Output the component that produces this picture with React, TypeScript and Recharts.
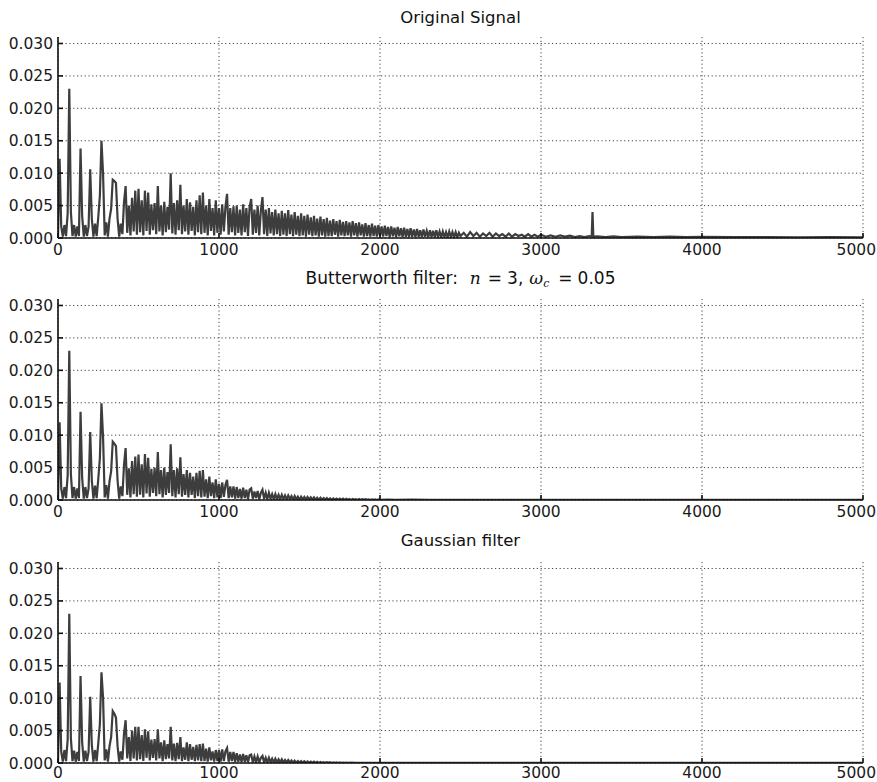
import React from 'react';
import { LineChart, Line, XAxis, YAxis, CartesianGrid } from 'recharts';

// Spectrum magnitudes in units of 1e-3, one value per 10 Hz bin starting at 0.
const originalDense = [
  0, 12.2, 1.8, 0.2, 2.0, 0.3, 3.8, 23.0, 4.0, 0.3,
  2.0, 0.2, 1.8, 0.3, 13.8, 3.4, 0.2, 2.0, 0.3, 1.8,
  10.6, 3.0, 0.2, 2.2, 0.3, 3.2, 6.5, 15.0, 9.8, 0.4,
  2.4, 0.2, 3.0, 4.5, 9.0, 8.8, 8.5, 3.0, 0.2, 2.2,
  0.6, 5.5, 8.0, 0.8, 5.0, 0.4, 6.2, 1.0, 7.3, 0.5,
  7.6, 0.9, 5.8, 0.4, 7.3, 1.1, 7.0, 0.5, 5.2, 1.2,
  5.4, 0.6, 8.0, 1.0, 5.0, 0.4, 5.6, 0.9, 4.8, 1.3,
  10.0, 0.7, 5.4, 0.5, 5.8, 1.2, 8.2, 0.6, 5.0, 1.0,
  6.0, 0.5, 5.5, 1.1, 4.8, 0.4, 5.8, 0.9, 6.6, 0.6,
  7.0, 0.8, 5.0, 0.4, 6.0, 1.1, 4.6, 0.4, 5.8, 0.8,
  4.6, 0.5, 5.2, 1.0, 4.8, 6.8, 0.5, 4.6, 0.9, 4.9,
  0.4, 5.0, 0.8, 4.4, 0.4, 5.2, 0.9, 4.6, 0.3, 4.8,
  6.0, 0.5, 4.4, 0.8, 5.0, 0.4, 4.2, 6.3, 0.6, 4.4,
  0.3, 4.6, 0.7, 4.0, 0.4, 4.4, 0.6, 3.8, 0.3, 4.2,
  0.5, 3.8, 0.3, 4.3, 0.6, 3.6, 0.3, 4.0, 0.5, 3.4,
  0.3, 3.8, 0.4, 3.4, 0.2, 3.6, 0.5, 3.2, 0.3, 3.4,
  0.4, 3.0, 0.2, 3.3, 0.4, 2.9, 0.2, 3.1, 0.3, 2.7,
  0.3, 2.9, 0.5, 2.6, 0.2, 2.8, 0.4, 2.5, 0.3, 2.6,
  0.4, 2.4, 0.2, 2.6, 0.4, 2.3, 0.2, 2.4, 0.4, 2.1,
  0.2, 2.3, 0.3, 2.0, 0.2, 2.2, 0.3, 1.9, 0.2, 2.0,
  0.3, 1.8, 0.2, 1.9, 0.3, 1.7, 0.15, 1.8, 0.25, 1.6,
  0.15, 1.7, 0.25, 1.5, 0.15, 1.6, 0.2, 1.4, 0.15, 1.5,
  0.2, 1.3, 0.15, 1.4, 0.2, 1.2, 0.1, 1.3, 0.2, 1.1,
  0.1, 1.2, 0.15, 1.1, 0.1, 1.2, 0.15, 1.0, 0.1, 1.0,
  0.15, 0.9, 0.1, 1.0, 0.15, 0.9, 0.1, 0.9, 0.1, 0.8,
];

// [frequency, magnitude 1e-3] for the sparse high-frequency end
const originalTail = [
  [2500, 0.3], [2520, 0.8], [2540, 0.2], [2560, 0.9], [2580, 0.3], [2600, 0.8],
  [2620, 0.2], [2640, 0.7], [2660, 0.3], [2680, 0.8], [2700, 0.2], [2720, 0.7],
  [2740, 0.3], [2760, 0.6], [2780, 0.2], [2800, 0.7], [2820, 0.2], [2840, 0.6],
  [2860, 0.3], [2880, 0.5], [2900, 0.2], [2920, 0.6], [2940, 0.2], [2960, 0.5],
  [2980, 0.2], [3000, 0.5], [3030, 0.2], [3060, 0.4], [3090, 0.2], [3120, 0.4],
  [3150, 0.2], [3180, 0.35], [3210, 0.15], [3240, 0.3], [3270, 0.15], [3300, 0.3],
  [3315, 0.2], [3320, 4.0], [3325, 0.2], [3350, 0.25], [3400, 0.15], [3450, 0.25],
  [3500, 0.15], [3600, 0.2], [3700, 0.15], [3800, 0.2], [3900, 0.12], [4000, 0.18],
  [4200, 0.12], [4400, 0.15], [4600, 0.1], [4800, 0.12], [5000, 0.1],
];

const butterworthDense = [
  0, 12.0, 1.8, 0.2, 2.0, 0.3, 3.8, 23.0, 4.0, 0.3,
  2.0, 0.2, 1.8, 0.3, 13.6, 3.4, 0.2, 2.0, 0.3, 1.8,
  10.5, 3.0, 0.2, 2.2, 0.3, 3.2, 6.4, 14.9, 9.6, 0.4,
  2.3, 0.2, 2.9, 4.4, 9.0, 8.7, 8.3, 3.0, 0.2, 2.1,
  0.6, 5.4, 8.0, 0.8, 4.9, 0.4, 6.0, 0.9, 6.7, 0.5,
  7.0, 0.8, 5.5, 0.4, 7.1, 1.0, 6.5, 0.5, 4.8, 1.1,
  5.0, 0.6, 7.4, 0.9, 4.6, 0.4, 5.0, 0.8, 4.3, 1.1,
  8.6, 0.6, 4.6, 0.4, 4.9, 0.9, 6.6, 0.5, 4.0, 0.8,
  4.6, 0.4, 4.2, 0.8, 3.6, 0.3, 4.2, 0.6, 4.5, 0.4,
  4.6, 0.5, 3.2, 0.3, 3.6, 0.6, 2.7, 0.3, 3.2, 0.4,
  2.5, 0.3, 2.7, 0.5, 2.3, 3.1, 0.3, 2.1, 0.4, 2.1,
  0.2, 2.0, 0.3, 1.7, 0.2, 1.9, 0.3, 1.6, 0.1, 1.6,
  1.8, 0.2, 1.3, 0.3, 1.4, 0.1, 1.1, 1.6, 0.2, 1.1,
  0.1, 1.1, 0.2, 0.9, 0.1, 0.9, 0.15, 0.8, 0.1, 0.8,
  0.15, 0.7, 0.1, 0.7, 0.15, 0.6, 0.05, 0.6, 0.1, 0.5,
  0.05, 0.5, 0.1, 0.45, 0.05, 0.45, 0.08, 0.4, 0.05, 0.4,
  0.05, 0.35, 0.03, 0.35, 0.05, 0.3, 0.03, 0.3, 0.05, 0.25,
  0.03, 0.25, 0.04, 0.22, 0.02, 0.22, 0.03, 0.2, 0.02, 0.18,
  0.03, 0.16, 0.02, 0.16, 0.03, 0.14, 0.02, 0.14, 0.02, 0.12,
  0.02, 0.12, 0.02, 0.1, 0.01, 0.1, 0.02, 0.09, 0.01, 0.08,
];

const butterworthTail = [
  [2000, 0.03], [2050, 0.06], [2100, 0.03], [2200, 0.05], [2300, 0.03],
  [2500, 0.03], [3000, 0.02], [3320, 0.02], [4000, 0.01], [5000, 0.01],
];

const gaussianDense = [
  0, 12.4, 1.8, 0.2, 2.0, 0.3, 3.6, 23.0, 3.8, 0.3,
  1.9, 0.2, 1.7, 0.3, 13.4, 3.2, 0.2, 1.9, 0.3, 1.7,
  10.2, 2.8, 0.2, 2.0, 0.3, 3.0, 6.0, 14.0, 10.0, 0.4,
  2.1, 0.2, 2.6, 4.0, 8.0, 7.6, 7.0, 2.6, 0.2, 1.8,
  0.5, 4.5, 6.6, 0.7, 4.0, 0.3, 5.0, 0.7, 5.6, 0.4,
  5.6, 0.6, 4.3, 0.3, 5.2, 0.8, 4.9, 0.4, 3.6, 0.8,
  3.7, 0.4, 5.2, 0.7, 3.2, 0.3, 3.5, 0.6, 2.9, 0.7,
  5.6, 0.4, 3.0, 0.3, 3.1, 0.6, 4.0, 0.3, 2.4, 0.5,
  3.2, 0.3, 2.9, 0.5, 2.5, 0.3, 2.8, 0.4, 2.9, 0.3,
  3.0, 0.3, 2.2, 0.2, 2.4, 0.4, 1.8, 0.2, 2.0, 0.3,
  2.0, 0.2, 2.1, 0.3, 1.8, 2.3, 0.2, 1.7, 0.3, 1.7,
  0.15, 1.5, 0.2, 1.3, 0.15, 1.4, 0.2, 1.2, 0.1, 1.2,
  1.3, 0.1, 1.0, 0.15, 1.0, 0.1, 0.8, 1.1, 0.1, 0.8,
  0.08, 0.8, 0.12, 0.65, 0.08, 0.65, 0.1, 0.55, 0.06, 0.55,
  0.1, 0.45, 0.05, 0.45, 0.08, 0.38, 0.04, 0.36, 0.06, 0.3,
  0.03, 0.3, 0.05, 0.26, 0.03, 0.24, 0.04, 0.22, 0.03, 0.2,
  0.03, 0.17, 0.02, 0.16, 0.03, 0.14, 0.02, 0.13, 0.02, 0.11,
  0.01, 0.1, 0.02, 0.09, 0.01, 0.08, 0.01, 0.07, 0.01, 0.06,
];

const gaussianTail = [
  [1800, 0.02], [1820, 0.05], [1850, 0.02], [1900, 0.03], [2000, 0.02],
  [2200, 0.01], [2500, 0.01], [3000, 0.01], [4000, 0.01], [5000, 0.01],
];

const xTicks = [0, 1000, 2000, 3000, 4000, 5000];
const yTicks = [0, 0.005, 0.01, 0.015, 0.02, 0.025, 0.03];

const BIN_HZ = 10;
const CHART_W = 877;
const PLOT_TOP = 37;
const PLOT_BOTTOM = 238;

function buildSeries(dense: number[], tail: number[][]) {
  const pts = dense.map((v, i) => ({ f: i * BIN_HZ, a: v / 1000 }));
  tail.forEach(([f, v]) => pts.push({ f, a: v / 1000 }));
  return pts;
}

const FONT = 'DejaVu Sans';
const TICK_SIZE = 15.5;
const tickFont = { fontFamily: FONT, fontSize: TICK_SIZE, fill: '#1a1a1a' };
const emptyTick = () => <g />;

// x tick labels; the last one is kept inside the canvas
function XTickLabel(props: any) {
  const { x, y, payload } = props;
  const isLast = payload.value === 5000;
  return (
    <text
      x={isLast ? CHART_W - 1 : x}
      y={y}
      dy="0.71em"
      textAnchor={isLast ? 'end' : 'middle'}
      fontFamily={FONT}
      fontSize={TICK_SIZE}
      fill="#1a1a1a"
    >
      {payload.value}
    </text>
  );
}

function SpectrumPanel({ data, height, labelGap = 11 }: { data: { f: number; a: number }[]; height: number; labelGap?: number }) {
  const axisH = height - PLOT_BOTTOM;
  return (
    <LineChart
      width={CHART_W}
      height={height}
      data={data}
      margin={{ top: PLOT_TOP, right: 14, bottom: 0, left: 0 }}
    >
      <CartesianGrid
        stroke="#444"
        strokeDasharray="1.2 2.6"
        strokeWidth={1}
        horizontalValues={yTicks}
        verticalValues={xTicks}
      />
      <XAxis
        dataKey="f"
        type="number"
        domain={[0, 5000]}
        ticks={xTicks}
        allowDataOverflow
        height={axisH}
        tick={<XTickLabel />}
        tickSize={-5}
        tickMargin={labelGap}
        stroke="#111"
        strokeWidth={1.6}
        interval={0}
      />
      <XAxis
        xAxisId="top"
        orientation="top"
        dataKey="f"
        type="number"
        domain={[0, 5000]}
        ticks={xTicks}
        height={0}
        tick={emptyTick}
        tickSize={-5}
        stroke="#111"
        strokeWidth={1.6}
        interval={0}
      />
      <YAxis
        type="number"
        domain={[0, 0.031]}
        ticks={yTicks}
        allowDataOverflow
        width={58}
        tick={tickFont}
        tickFormatter={(v: number) => v.toFixed(3)}
        tickSize={-5}
        tickMargin={10}
        stroke="#111"
        strokeWidth={1.6}
        interval={0}
      />
      <YAxis
        yAxisId="right"
        orientation="right"
        type="number"
        domain={[0, 0.031]}
        ticks={yTicks}
        width={0}
        tick={emptyTick}
        tickSize={-5}
        stroke="#111"
        strokeWidth={1.6}
        interval={0}
      />
      <Line
        type="linear"
        dataKey="a"
        stroke="#3d3d3d"
        strokeWidth={2.2}
        dot={false}
        isAnimationActive={false}
      />
    </LineChart>
  );
}

const titleStyle: React.CSSProperties = {
  position: 'absolute',
  left: 58,
  width: 805,
  display: 'flex',
  justifyContent: 'center',
  alignItems: 'baseline',
  fontFamily: FONT,
  fontSize: 16.5,
  color: '#111',
  lineHeight: '20px',
  whiteSpace: 'pre',
};

const mathStyle: React.CSSProperties = { fontFamily: 'DejaVu Serif', fontStyle: 'italic' };

export default function App() {
  const original = buildSeries(originalDense, originalTail);
  const butterworth = buildSeries(butterworthDense, butterworthTail);
  const gaussian = buildSeries(gaussianDense, gaussianTail);

  return (
    <div style={{ position: 'absolute', left: 0, top: 0, width: 877, height: 782, background: '#fff', overflow: 'hidden' }}>
      <div style={{ ...titleStyle, top: 8 }}>Original Signal</div>
      <div style={{ ...titleStyle, top: 268, fontSize: 17 }}>
        <span>Butterworth filter:</span>
        <span style={{ ...mathStyle, marginLeft: 12 }}>n</span>
        <span style={{ margin: '0 5px 0 7px' }}>=</span>
        <span>3,</span>
        <span style={{ ...mathStyle, marginLeft: 6 }}>ω</span>
        <span style={{ ...mathStyle, fontSize: 11, position: 'relative', top: 3 }}>c</span>
        <span style={{ margin: '0 5px 0 9px' }}>=</span>
        <span>0.05</span>
      </div>
      <div style={{ ...titleStyle, top: 531 }}>Gaussian filter</div>

      <div style={{ position: 'absolute', left: 0, top: 0 }}>
        <SpectrumPanel data={original} height={262} />
      </div>
      <div style={{ position: 'absolute', left: 0, top: 262 }}>
        <SpectrumPanel data={butterworth} height={262} />
      </div>
      <div style={{ position: 'absolute', left: 0, top: 525 }}>
        <SpectrumPanel data={gaussian} height={257} labelGap={9} />
      </div>
    </div>
  );
}
